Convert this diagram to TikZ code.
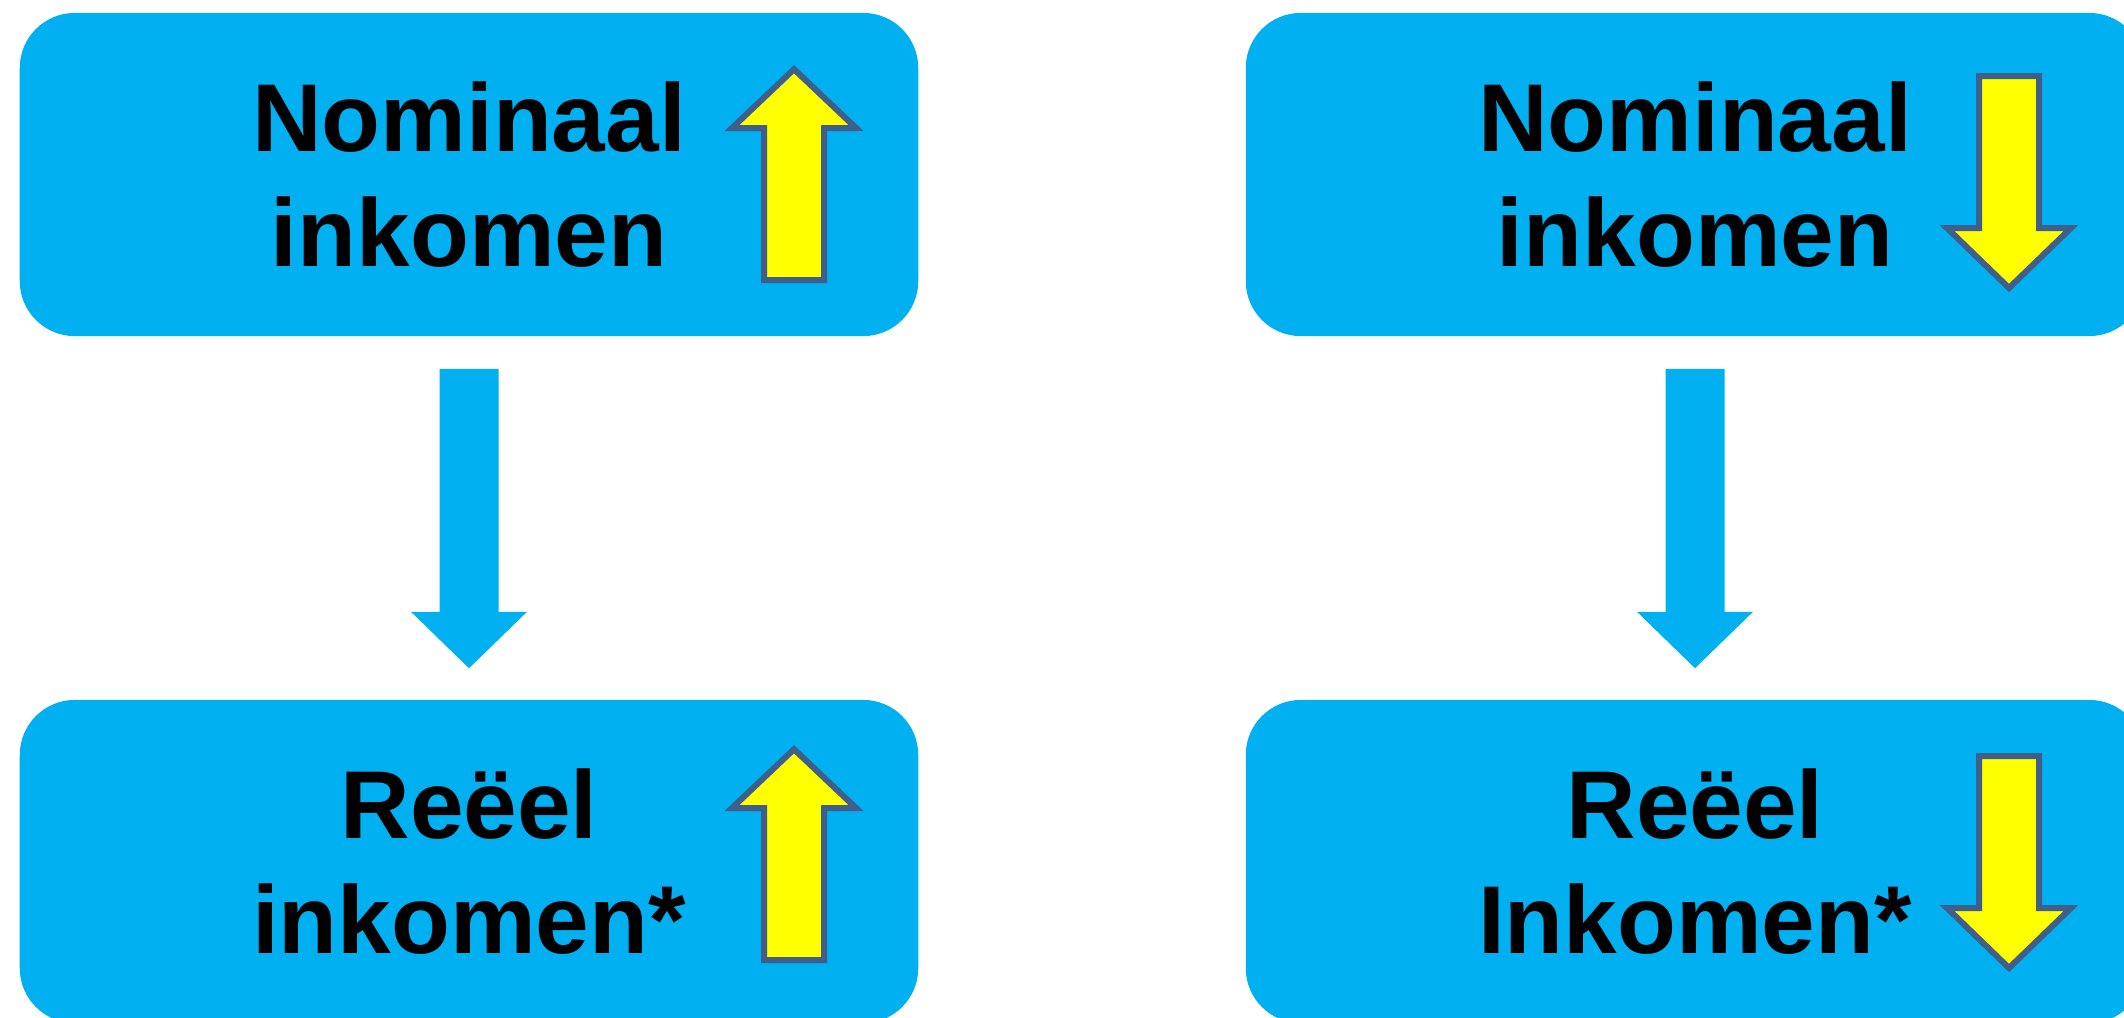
\documentclass[tikz,border=0pt]{standalone}
\usepackage{fontspec}
\setmainfont{Liberation Sans}
\usetikzlibrary{calc}
\definecolor{boxblue}{HTML}{00B0F0}
\definecolor{arrowline}{HTML}{3F5F8A}
\definecolor{arrowfill}{HTML}{FFFF00}
\tikzset{
  box/.style={fill=boxblue, rounded corners=0.55cm, minimum width=8.98cm,
    minimum height=3.23cm, align=center, inner sep=0pt,
    font=\fontsize{27.4pt}{32.7pt}\selectfont\bfseries},
  conn/.style={fill=boxblue},
  trend/.style={fill=arrowfill, draw=arrowline, line width=0.06cm, line join=miter},
  uparrow/.pic={
    \draw[trend] (0,-105.3) -- (62,-46.5) -- (30,-46.5) -- (30,105.5)
      -- (-30,105.5) -- (-30,-46.5) -- (-62,-46.5) -- cycle;
  },
  downarrow/.pic={
    \draw[trend] (-30,-98.5) -- (30,-98.5) -- (30,53.5) -- (62,53.5)
      -- (0,113.5) -- (-62,53.5) -- (-30,53.5) -- cycle;
  }
}
\begin{document}
\begin{tikzpicture}[x=0.01cm,y=-0.01cm]
\useasboundingbox (0,0) rectangle (2124,1017);
\clip (0,0) rectangle (2124,1017);
\node[box] (nl) at (469,174.5) {Nominaal\\inkomen};
\node[box] (nr) at (1695,174.5) {Nominaal\\inkomen};
\node[box] (rl) at (469,861.5) {Reëel\\inkomen*};
\node[box] (rr) at (1695,861.5) {Reëel\\Inkomen*};
% connectors
\fill[conn] ($(nl.south)+(-29.5,32)$) -- ($(nl.south)+(29.5,32)$)
  -- ($(nl.south)+(29.5,275)$) -- ($(nl.south)+(58,275)$)
  -- ($(rl.north)+(0,-31)$) -- ($(nl.south)+(-58,275)$)
  -- ($(nl.south)+(-29.5,275)$) -- cycle;
\fill[conn] ($(nr.south)+(-29.5,32)$) -- ($(nr.south)+(29.5,32)$)
  -- ($(nr.south)+(29.5,275)$) -- ($(nr.south)+(58,275)$)
  -- ($(rr.north)+(0,-31)$) -- ($(nr.south)+(-58,275)$)
  -- ($(nr.south)+(-29.5,275)$) -- cycle;
% trend arrows
\pic at (794,174.5) {uparrow};
\pic at (794,854.5) {uparrow};
\pic at (2009,174.5) {downarrow};
\pic at (2009,854.5) {downarrow};
\end{tikzpicture}
\end{document}
